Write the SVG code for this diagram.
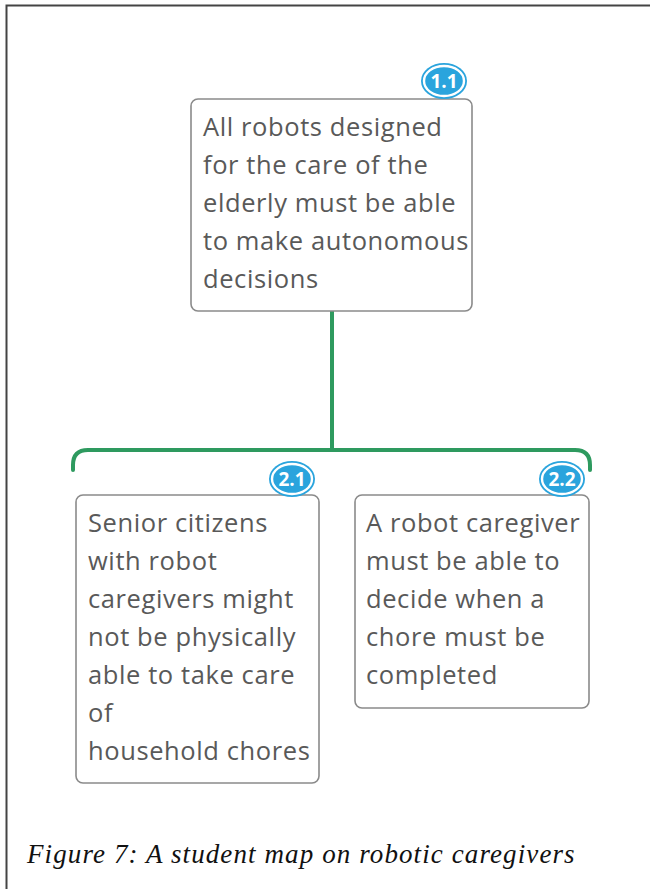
<svg xmlns="http://www.w3.org/2000/svg" width="650" height="889" viewBox="0 0 650 889">
<style>
.box{fill:#fff;stroke:#8a8a8a;stroke-width:1.6}
.t{font-family:"Open Sans","Noto Sans",sans-serif;font-size:25.5px;letter-spacing:0.6px;fill:#595959}
.bo{fill:#2aa4dd}
.bi{fill:#2aa4dd;stroke:#fff;stroke-width:2.4}
.bt{font-family:"Open Sans","Noto Sans",sans-serif;font-size:19px;font-weight:bold;fill:#fff;text-anchor:middle}
.con{fill:none;stroke:#2e9a5f;stroke-width:4;stroke-linecap:round}
.cap{font-family:"Liberation Serif",serif;font-style:italic;font-size:27px;letter-spacing:1.1px;fill:#111}
</style>
<rect width="650" height="889" fill="#fff"/>
<path d="M6.5 889 V5.5 H650" fill="none" stroke="#444" stroke-width="2"/>
<g id="connectors">
<path class="con" d="M332 311 V450"/>
<path class="con" d="M73 470 V465 Q73 450 88 450 H575 Q590 450 590 465 V470"/>
</g>
<g id="n1">
<rect class="box" x="191" y="99" width="281" height="212" rx="7"/>
<text class="t" x="203" y="136">All robots designed</text>
<text class="t" x="203" y="174">for the care of the</text>
<text class="t" x="203" y="212">elderly must be able</text>
<text class="t" x="203" y="250">to make autonomous</text>
<text class="t" x="203" y="288">decisions</text>
<ellipse class="bo" cx="444" cy="81" rx="23" ry="18"/>
<ellipse class="bi" cx="444" cy="81" rx="20" ry="15"/>
<text class="bt" x="444" y="88">1.1</text>
</g>
<g id="n21">
<rect class="box" x="76" y="495" width="243" height="288" rx="7"/>
<text class="t" x="88" y="532">Senior citizens</text>
<text class="t" x="88" y="570">with robot</text>
<text class="t" x="88" y="608">caregivers might</text>
<text class="t" x="88" y="646">not be physically</text>
<text class="t" x="88" y="684">able to take care</text>
<text class="t" x="88" y="722">of</text>
<text class="t" x="88" y="760">household chores</text>
<ellipse class="bo" cx="292" cy="479" rx="23" ry="18"/>
<ellipse class="bi" cx="292" cy="479" rx="20" ry="15"/>
<text class="bt" x="292" y="486">2.1</text>
</g>
<g id="n22">
<rect class="box" x="355" y="495" width="234" height="213" rx="7"/>
<text class="t" x="366" y="532">A robot caregiver</text>
<text class="t" x="366" y="570">must be able to</text>
<text class="t" x="366" y="608">decide when a</text>
<text class="t" x="366" y="646">chore must be</text>
<text class="t" x="366" y="684">completed</text>
<ellipse class="bo" cx="562" cy="479" rx="23" ry="18"/>
<ellipse class="bi" cx="562" cy="479" rx="20" ry="15"/>
<text class="bt" x="562" y="486">2.2</text>
</g>
<text class="cap" x="27" y="863">Figure 7: A student map on robotic caregivers</text>
</svg>
